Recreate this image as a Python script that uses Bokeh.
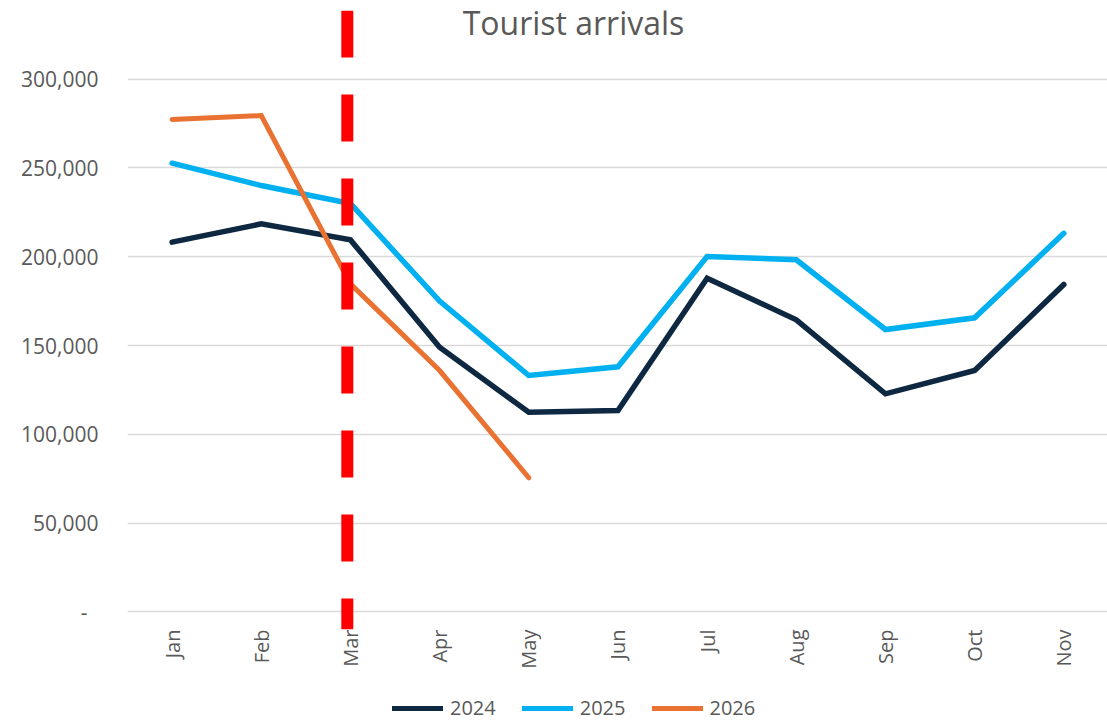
import math
from bokeh.plotting import figure
from bokeh.layouts import column
from bokeh.models import Range1d, FixedTicker, Label, Legend, LegendItem
from bokeh.embed import file_html
from bokeh.resources import INLINE

title_text = "Tourist arrivals"
months = ["Jan", "Feb", "Mar", "Apr", "May", "Jun", "Jul", "Aug", "Sep", "Oct", "Nov"]
y_ticks = [0, 50000, 100000, 150000, 200000, 250000, 300000]
y_tick_labels = ["-\u00a0\u00a0", "50,000", "100,000", "150,000", "200,000", "250,000", "300,000"]

series_names = ["2024", "2025", "2026"]
arrivals_2024 = [208200, 218500, 209500, 149000, 112400, 113400, 187900, 164500, 122800, 135900, 184400]
arrivals_2025 = [252700, 240100, 230000, 175000, 133100, 138000, 200100, 198300, 159000, 165600, 213200]
arrivals_2026 = [277300, 279500, 184700, 135900, 75500]
series_colors = ["#0e2841", "#00b0f0", "#e97132"]

cutoff_month = "Mar"

FONT = "Open Sans"
TEXT_COLOR = "#595959"

x_idx = list(range(len(months)))
y_min, y_max = -9970, 338700
series_values = [arrivals_2024, arrivals_2025, arrivals_2026]
series_widths = [5.5, 5.5, 5]

p = figure(width=1107, height=675, output_backend="svg", toolbar_location=None,
           x_range=Range1d(-0.5, len(months) - 0.51), y_range=Range1d(y_min, y_max),
           min_border_left=127, min_border_right=0, min_border_top=10, min_border_bottom=46)
p.outline_line_color = None
p.background_fill_color = "white"
p.border_fill_color = "white"

# axes
p.yaxis.ticker = FixedTicker(ticks=y_ticks)
p.yaxis.major_label_overrides = {t: l for t, l in zip(y_ticks, y_tick_labels)}
p.yaxis.axis_line_color = None
p.yaxis.major_tick_line_color = None
p.yaxis.minor_tick_line_color = None
p.yaxis.major_tick_in = 0
p.yaxis.major_tick_out = 0
p.yaxis.major_label_standoff = 29
p.yaxis.major_label_text_font = FONT
p.yaxis.major_label_text_font_size = "21px"
p.yaxis.major_label_text_color = TEXT_COLOR

p.xaxis.ticker = FixedTicker(ticks=x_idx)
p.xaxis.major_label_overrides = {i: m for i, m in enumerate(months)}
p.xaxis.axis_line_color = None
p.xaxis.major_tick_line_color = None
p.xaxis.minor_tick_line_color = None
p.xaxis.major_tick_in = 0
p.xaxis.major_tick_out = 0
p.xaxis.major_label_standoff = 0
p.xaxis.major_label_orientation = math.pi / 2
p.xaxis.major_label_text_font = FONT
p.xaxis.major_label_text_font_size = "20px"
p.xaxis.major_label_text_color = TEXT_COLOR

p.xgrid.grid_line_color = None
p.ygrid.ticker = FixedTicker(ticks=y_ticks)
p.ygrid.grid_line_color = "#d9d9d9"
p.ygrid.grid_line_width = 1.5

# series
for name, vals, col, w in zip(series_names, series_values, series_colors, series_widths):
    p.line(x_idx[:len(vals)], vals, line_color=col, line_width=w,
           line_cap="round", line_join="miter")

# cutoff dashed line
cx = months.index(cutoff_month) - 0.035
p.line([cx, cx], [y_max, y_min], line_color="red", line_width=12, line_dash="47 37", line_cap="butt")

# title
p.add_layout(Label(x=446, y=607, x_units="screen", y_units="screen", text=title_text,
                   text_font=FONT, text_font_size="32px", text_color=TEXT_COLOR,
                   text_align="center", text_baseline="alphabetic"))

# legend strip underneath (same series, drawn out of view so only legend glyphs show)
leg_fig = figure(width=1107, height=46, output_backend="svg", toolbar_location=None,
                 x_axis_type=None, y_axis_type=None, x_range=p.x_range,
                 y_range=Range1d(1e7, 1e7 + 1), min_border=0)
leg_fig.outline_line_color = None
leg_fig.background_fill_color = "white"
leg_fig.border_fill_color = "white"
leg_renderers = []
for name, vals, col, w in zip(series_names, series_values, series_colors, series_widths):
    leg_renderers.append(leg_fig.line(x_idx[:len(vals)], vals, line_color=col, line_width=5,
                                      line_cap="round"))

legend = Legend(items=[LegendItem(label=n, renderers=[r]) for n, r in zip(series_names, leg_renderers)],
                orientation="horizontal", location=(265, 0),
                glyph_width=51, glyph_height=20, label_standoff=7, spacing=26, padding=0, margin=0,
                border_line_color=None, background_fill_alpha=0,
                label_text_font=FONT, label_text_font_size="20px", label_text_color=TEXT_COLOR)
leg_fig.add_layout(legend, "center")

layout = column(p, leg_fig, spacing=0)
open("out.html", "w").write(file_html(layout, INLINE))
